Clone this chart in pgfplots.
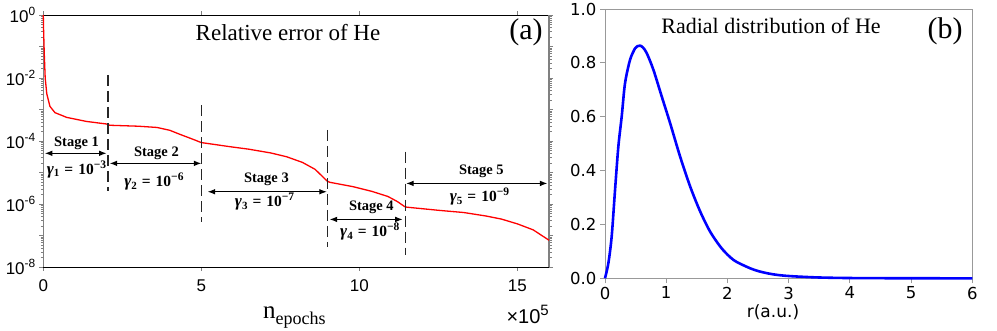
\documentclass[border=0pt]{standalone}
\usepackage{fontspec}
\setmainfont{Liberation Serif}
\newfontfamily\arial{Liberation Sans}
\newfontfamily\dejavu{DejaVu Sans}
\usepackage{pgfplots}
\pgfplotsset{compat=1.18}
\usetikzlibrary{arrows.meta}
\newcommand{\stgfont}{\bfseries\fontsize{14.5}{15}\selectfont}
\newcommand{\gam}[2]{{\fontsize{17}{17}\selectfont\bfseries\itshape γ}\raisebox{-2.5pt}{\fontsize{11}{11}\selectfont\bfseries #1}\hspace{5pt}{\fontsize{15.5}{15.5}\selectfont\bfseries =\hspace{5pt}10}\raisebox{6pt}{\fontsize{11.5}{11.5}\selectfont\bfseries −#2}}
\begin{document}
\begin{tikzpicture}
\path[use as bounding box] (0pt,0pt) rectangle (997pt,330pt);
\begin{axis}[
  at={(43.3pt,63pt)}, anchor=south west, scale only axis,
  width=505.7pt, height=252pt,
  xmin=0, xmax=16, ymin=1e-8, ymax=1, ymode=log,
  xtick={0,5,10,15}, xticklabels={0,5,10,15},
  ytick={1e-8,1e-7,1e-6,1e-5,1e-4,1e-3,1e-2,1e-1,1},
  yticklabels={10\textsuperscript{-8},,10\textsuperscript{-6},,10\textsuperscript{-4},,10\textsuperscript{-2},,10\textsuperscript{0}},
  tick label style={font=\arial\fontsize{17}{17}\selectfont, text=black},
  xticklabel style={yshift=-5pt},
  separate axis lines,
  x axis line style={black, line width=0.8pt},
  y axis line style={gray, line width=1.5pt},
  tick style={gray, line width=0.6pt},
  tick align=outside, major tick length=4pt, minor tick length=2.5pt,
  clip=false,
]
\addplot[red, line width=1.3pt] coordinates {
(0,1) (0.01,0.316) (0.03,0.0631) (0.06,0.01) (0.11,3.16e-3) (0.21,1.26e-3)
(0.37,7.94e-4) (0.74,5.62e-4) (1.37,4.17e-4) (2.0,3.47e-4) (2.1,3.16e-4)
(3.0,2.95e-4) (3.6,2.69e-4) (4.0,2.19e-4) (4.3,1.66e-4) (4.7,1.17e-4)
(5.0,8.91e-5) (5.9,6.61e-5) (6.5,5.50e-5) (7.2,4.17e-5) (7.7,3.16e-5)
(8.2,2.09e-5) (8.6,1.26e-5) (8.98,5.37e-6) (9.06,4.90e-6) (9.8,3.55e-6)
(10.4,2.51e-6) (10.9,1.74e-6) (11.2,1.20e-6) (11.43,8.32e-7) (11.5,7.94e-7)
(12.5,6.31e-7) (13.3,5.37e-7) (14.0,4.17e-7) (14.5,3.31e-7) (15.0,2.34e-7)
(15.5,1.51e-7) (16.0,7.08e-8)};
\addplot[black!85, line width=1.2pt, dash pattern=on 11pt off 5pt] coordinates {(2.05,1.26e-2) (2.05,2.5e-6)};
\addplot[black!85, line width=1.2pt, dash pattern=on 11pt off 5pt] coordinates {(5.0,1.38e-3) (5.0,2.75e-7)};
\addplot[black!85, line width=1.2pt, dash pattern=on 11pt off 5pt] coordinates {(9.0,2.24e-4) (9.0,4.37e-8)};
\addplot[black!85, line width=1.2pt, dash pattern=on 11pt off 5pt] coordinates {(11.45,4.57e-5) (11.45,2.4e-8)};
\draw[{Latex}-{Latex}, line width=1pt] (axis cs:0.05,4.07e-5) -- (axis cs:2.0,4.07e-5);
\draw[{Latex}-{Latex}, line width=1pt] (axis cs:2.1,1.95e-5) -- (axis cs:5.0,1.95e-5);
\draw[{Latex}-{Latex}, line width=1pt] (axis cs:5.2,2.45e-6) -- (axis cs:8.97,2.45e-6);
\draw[{Latex}-{Latex}, line width=1pt] (axis cs:9.06,3.24e-7) -- (axis cs:11.37,3.24e-7);
\draw[{Latex}-{Latex}, line width=1pt] (axis cs:11.48,4.5e-6) -- (axis cs:15.95,4.5e-6);
\node[font=\stgfont] at (axis cs:1.05,8.5e-5) {Stage 1};
\node[inner sep=0pt] at (axis cs:1.05,1.29e-5) {\gam{1}{3}};
\node[font=\stgfont] at (axis cs:3.58,4.07e-5) {Stage 2};
\node[inner sep=0pt] at (axis cs:3.50,5.1e-6) {\gam{2}{6}};
\node[font=\stgfont] at (axis cs:7.06,6.0e-6) {Stage 3};
\node[inner sep=0pt] at (axis cs:7.0,1.18e-6) {\gam{3}{7}};
\node[font=\stgfont] at (axis cs:10.38,7.9e-7) {Stage 4};
\node[inner sep=0pt] at (axis cs:10.33,1.32e-7) {\gam{4}{8}};
\node[font=\stgfont] at (axis cs:13.86,1.07e-5) {Stage 5};
\node[inner sep=0pt] at (axis cs:13.8,1.70e-6) {\gam{5}{9}};
\end{axis}
\begin{axis}[
  at={(605pt,51.7pt)}, anchor=south west, scale only axis,
  width=367.3pt, height=269.3pt,
  xmin=0, xmax=6, ymin=0, ymax=1,
  xtick={0,1,2,3,4,5,6}, xticklabels={0,1,2,3,4,5,6},
  ytick={0,0.2,0.4,0.6,0.8,1}, yticklabels={0.0,0.2,0.4,0.6,0.8,1.0},
  tick label style={font=\dejavu\fontsize{16.5}{16.5}\selectfont, text=black},
  axis line style={gray!80, line width=0.9pt},
  tick style={gray!80, line width=0.9pt},
  tick align=outside, major tick length=5pt, tick pos=left,
  clip=false,
]
\addplot[blue, line width=2.6pt, smooth, tension=0.5] coordinates {
(0,0) (0.055,0.056) (0.109,0.155) (0.164,0.328) (0.218,0.489) (0.273,0.601)
(0.327,0.724) (0.409,0.811) (0.491,0.854) (0.53,0.862) (0.573,0.864) (0.62,0.857) (0.682,0.836)
(0.791,0.774) (0.927,0.675) (1.064,0.576) (1.227,0.452) (1.391,0.341)
(1.555,0.248) (1.718,0.173) (1.882,0.118) (2.0,0.088) (2.1,0.068) (2.2,0.055) (2.373,0.037)
(2.5,0.027) (2.646,0.019) (2.8,0.013) (2.97,0.009) (3.19,0.006) (3.5,0.003) (4.0,0.001)
(5.0,0.0001) (6.0,0)};
\end{axis}
\node[anchor=base, font=\fontsize{23}{23}\selectfont] at (288pt,289pt) {Relative error of He};
\node[anchor=base, font=\fontsize{30}{30}\selectfont, inner sep=0pt] at (526pt,290pt) {(a)};
\node[anchor=base, font=\fontsize{22}{22}\selectfont] at (771pt,296pt) {Radial distribution of He};
\node[anchor=base, font=\fontsize{30}{30}\selectfont, inner sep=0pt] at (945pt,291pt) {(b)};
\node[anchor=base west, inner sep=0pt] at (263pt,12pt) {\fontsize{25}{25}\selectfont n\raisebox{-6pt}{\fontsize{18}{18}\selectfont epochs}};
\node[anchor=base east, inner sep=0pt] at (549pt,7pt) {\arial\fontsize{20}{20}\selectfont ×10\raisebox{8pt}{\fontsize{15}{15}\selectfont 5}};
\node[anchor=base, inner sep=0pt] at (773pt,13pt) {\dejavu\fontsize{17}{17}\selectfont r(a.u.)};
\end{tikzpicture}
\end{document}
